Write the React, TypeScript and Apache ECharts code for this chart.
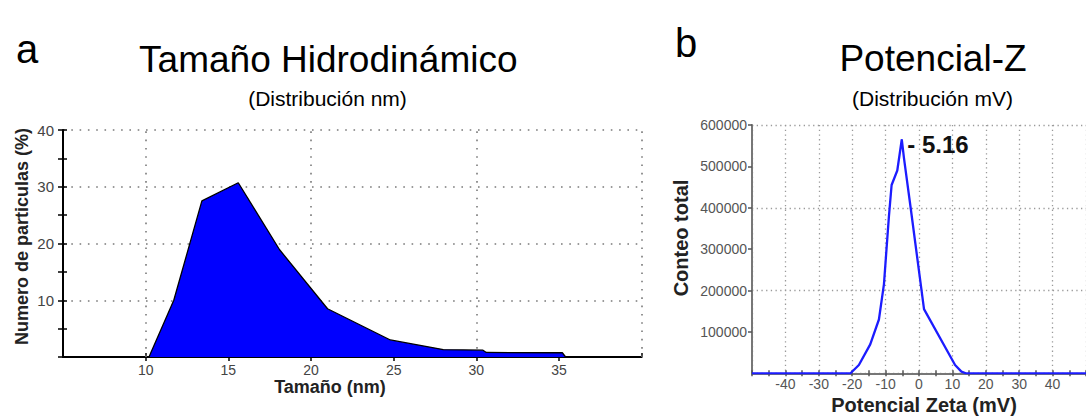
import React, { useEffect, useRef } from "react";
import * as echarts from "echarts";

// Panel a: hydrodynamic size distribution
const sizeNm = [10.2, 11.7, 13.4, 15.6, 18.1, 21.0, 24.8, 28.0, 30.4, 30.6, 35.2, 35.4];
const sizePct = [0, 10, 27.5, 30.7, 18.9, 8.5, 3.0, 1.3, 1.2, 0.8, 0.75, 0];
const sizeGridX = [10, 20, 30, 40];

// Panel b: zeta potential distribution
const zetaMv = [-50, -20.5, -18, -14.6, -12, -10.5, -9, -8.2, -6.5, -5.16, -4.5, -2.5, 1.5, 10.8, 12.7, 14, 50];
const zetaCount = [0, 0, 20000, 70000, 130000, 215000, 380000, 455000, 490000, 565000, 520000, 400000, 155000, 20000, 4000, 0, 0];
const zetaPeak = { x: -5.16, y: 565000, label: "- 5.16" };

const FONT = "'Liberation Sans', Arial, Helvetica, sans-serif";

export default function App() {
  const ref = useRef<HTMLDivElement>(null);

  useEffect(() => {
    if (!ref.current) return;
    const chart = echarts.init(ref.current, undefined, { renderer: "svg" });

    const dotLeft = { color: "#7a7a7a", width: 1.6, type: [1.6, 6.7] as any };
    const dotRight = { color: "#9a9a9a", width: 1.3, type: [1.3, 3.4] as any };

    const txt = (
      text: string,
      x: number,
      y: number,
      size: number,
      bold = false,
      rotation = 0,
      fill = "#000"
    ) => ({
      type: "text",
      x,
      y,
      rotation,
      silent: true,
      style: {
        text,
        font: `${bold ? "bold " : ""}${size}px ${FONT}`,
        fill,
        textAlign: "center",
        textVerticalAlign: "middle",
        align: "center",
        verticalAlign: "middle",
      },
    });

    chart.setOption({
      animation: false,
      backgroundColor: "#fff",
      textStyle: { fontFamily: FONT },
      grid: [
        { left: 63, top: 130, width: 578.7, height: 227 },
        { left: 752, top: 125, width: 344, height: 248.3 },
      ],
      xAxis: [
        {
          type: "value",
          gridIndex: 0,
          min: 5,
          max: 40,
          interval: 5,
          position: "bottom",
          axisLine: { show: true, onZero: false, lineStyle: { color: "#000", width: 2 } },
          axisTick: { show: true, length: 4, lineStyle: { color: "#000", width: 1.5 } },
          axisLabel: {
            showMinLabel: false,
            showMaxLabel: false,
            fontSize: 14,
            color: "#444",
            margin: 6,
            fontFamily: FONT,
          },
          splitLine: { show: false },
        },
        {
          type: "value",
          gridIndex: 0,
          min: 5,
          max: 40,
          interval: 5,
          position: "bottom",
          axisLine: { show: false, onZero: false },
          axisTick: { show: true, inside: true, length: 4, lineStyle: { color: "#000", width: 1.5 } },
          axisLabel: { show: false },
          splitLine: { show: false },
        },
        {
          type: "value",
          gridIndex: 1,
          min: -50,
          max: 50,
          interval: 10,
          position: "bottom",
          axisLine: { show: true, onZero: false, lineStyle: { color: "#777", width: 2 } },
          axisTick: { show: true, length: 3, lineStyle: { color: "#555", width: 1.5 } },
          minorTick: { show: true, splitNumber: 2, length: 3, lineStyle: { color: "#555", width: 1.5 } },
          axisLabel: {
            showMinLabel: false,
            showMaxLabel: false,
            fontSize: 14,
            color: "#555",
            margin: 4,
            fontFamily: FONT,
          },
          splitLine: { show: true, lineStyle: dotRight },
        },
        {
          type: "value",
          gridIndex: 1,
          min: -50,
          max: 50,
          interval: 5,
          position: "bottom",
          axisLine: { show: false, onZero: false },
          axisTick: { show: true, inside: true, length: 3, lineStyle: { color: "#555", width: 1.5 } },
          axisLabel: { show: false },
          splitLine: { show: false },
        },
      ],
      yAxis: [
        {
          type: "value",
          gridIndex: 0,
          min: 0,
          max: 40,
          interval: 10,
          position: "left",
          axisLine: { show: true, onZero: false, lineStyle: { color: "#000", width: 2 } },
          axisTick: { show: true, length: 5, lineStyle: { color: "#000", width: 1.5 } },
          minorTick: { show: true, splitNumber: 2, length: 5, lineStyle: { color: "#000", width: 1.5 } },
          axisLabel: {
            showMinLabel: false,
            fontSize: 15,
            color: "#444",
            margin: 9,
            fontFamily: FONT,
          },
          splitLine: { show: true, lineStyle: dotLeft },
        },
        {
          type: "value",
          gridIndex: 0,
          min: 0,
          max: 40,
          interval: 5,
          position: "left",
          axisLine: { show: false, onZero: false },
          axisTick: { show: true, inside: true, length: 4, lineStyle: { color: "#000", width: 1.5 } },
          axisLabel: { show: false },
          splitLine: { show: false },
        },
        {
          type: "value",
          gridIndex: 1,
          min: 0,
          max: 600000,
          interval: 100000,
          position: "left",
          axisLine: { show: true, onZero: false, lineStyle: { color: "#777", width: 2 } },
          axisTick: { show: true, length: 4, lineStyle: { color: "#555", width: 1.5 } },
          axisLabel: {
            showMinLabel: false,
            fontSize: 14,
            color: "#555",
            margin: 5,
            fontFamily: FONT,
            formatter: (v: number) => String(v),
          },
          splitLine: { show: false },
        },
        {
          type: "value",
          gridIndex: 1,
          min: 0,
          max: 600000,
          interval: 200000,
          position: "left",
          axisLine: { show: false, onZero: false },
          axisTick: { show: false },
          axisLabel: { show: false },
          splitLine: { show: true, lineStyle: dotRight },
        },
      ],
      series: [
        {
          type: "line",
          xAxisIndex: 0,
          yAxisIndex: 0,
          z: 3,
          data: sizeNm.map((x, i) => [x, sizePct[i]]),
          symbol: "none",
          smooth: false,
          lineStyle: { color: "#000", width: 1.3 },
          areaStyle: { color: "#0000ff", opacity: 1 },
          markLine: {
            z: 1,
            silent: true,
            symbol: ["none", "none"],
            label: { show: false },
            lineStyle: dotLeft,
            data: sizeGridX.map((v) => ({ xAxis: v })),
          },
        },
        {
          type: "line",
          xAxisIndex: 2,
          yAxisIndex: 2,
          z: 3,
          data: zetaMv.map((x, i) => [x, zetaCount[i]]),
          symbol: "none",
          smooth: false,
          lineStyle: { color: "#1c1cff", width: 2.3 },
          markPoint: {
            symbol: "circle",
            symbolSize: 1,
            itemStyle: { color: "#1c1cff" },
            label: {
              show: true,
              position: "right",
              distance: 5,
              offset: [0, 5],
              formatter: zetaPeak.label,
              fontSize: 24,
              fontWeight: "bold",
              color: "#111",
              fontFamily: FONT,
            },
            data: [{ coord: [zetaPeak.x, zetaPeak.y], value: zetaPeak.x }],
          },
        },
      ],
      graphic: [
        txt("a", 27, 49.4, 40),
        txt("Tamaño Hidrodinámico", 328.3, 59.9, 37),
        txt("(Distribución nm)", 327.5, 98, 21),
        txt("b", 686, 42.8, 40),
        txt("Potencial-Z", 933, 58.9, 37),
        txt("(Distribución mV)", 932.5, 98, 21),
        txt("Tamaño (nm)", 330, 387, 18, true, 0, "#222"),
        txt("Numero de particulas (%)", 22.3, 236.5, 18, true, Math.PI / 2, "#222"),
        txt("Conteo total", 681, 238, 20, true, Math.PI / 2, "#222"),
        txt("Potencial Zeta (mV)", 924, 405, 20, true, 0, "#222"),
      ],
    });

    return () => chart.dispose();
  }, []);

  return (
    <div
      ref={ref}
      style={{ position: "fixed", left: 0, top: 0, width: 1086, height: 417, background: "#fff" }}
    />
  );
}
